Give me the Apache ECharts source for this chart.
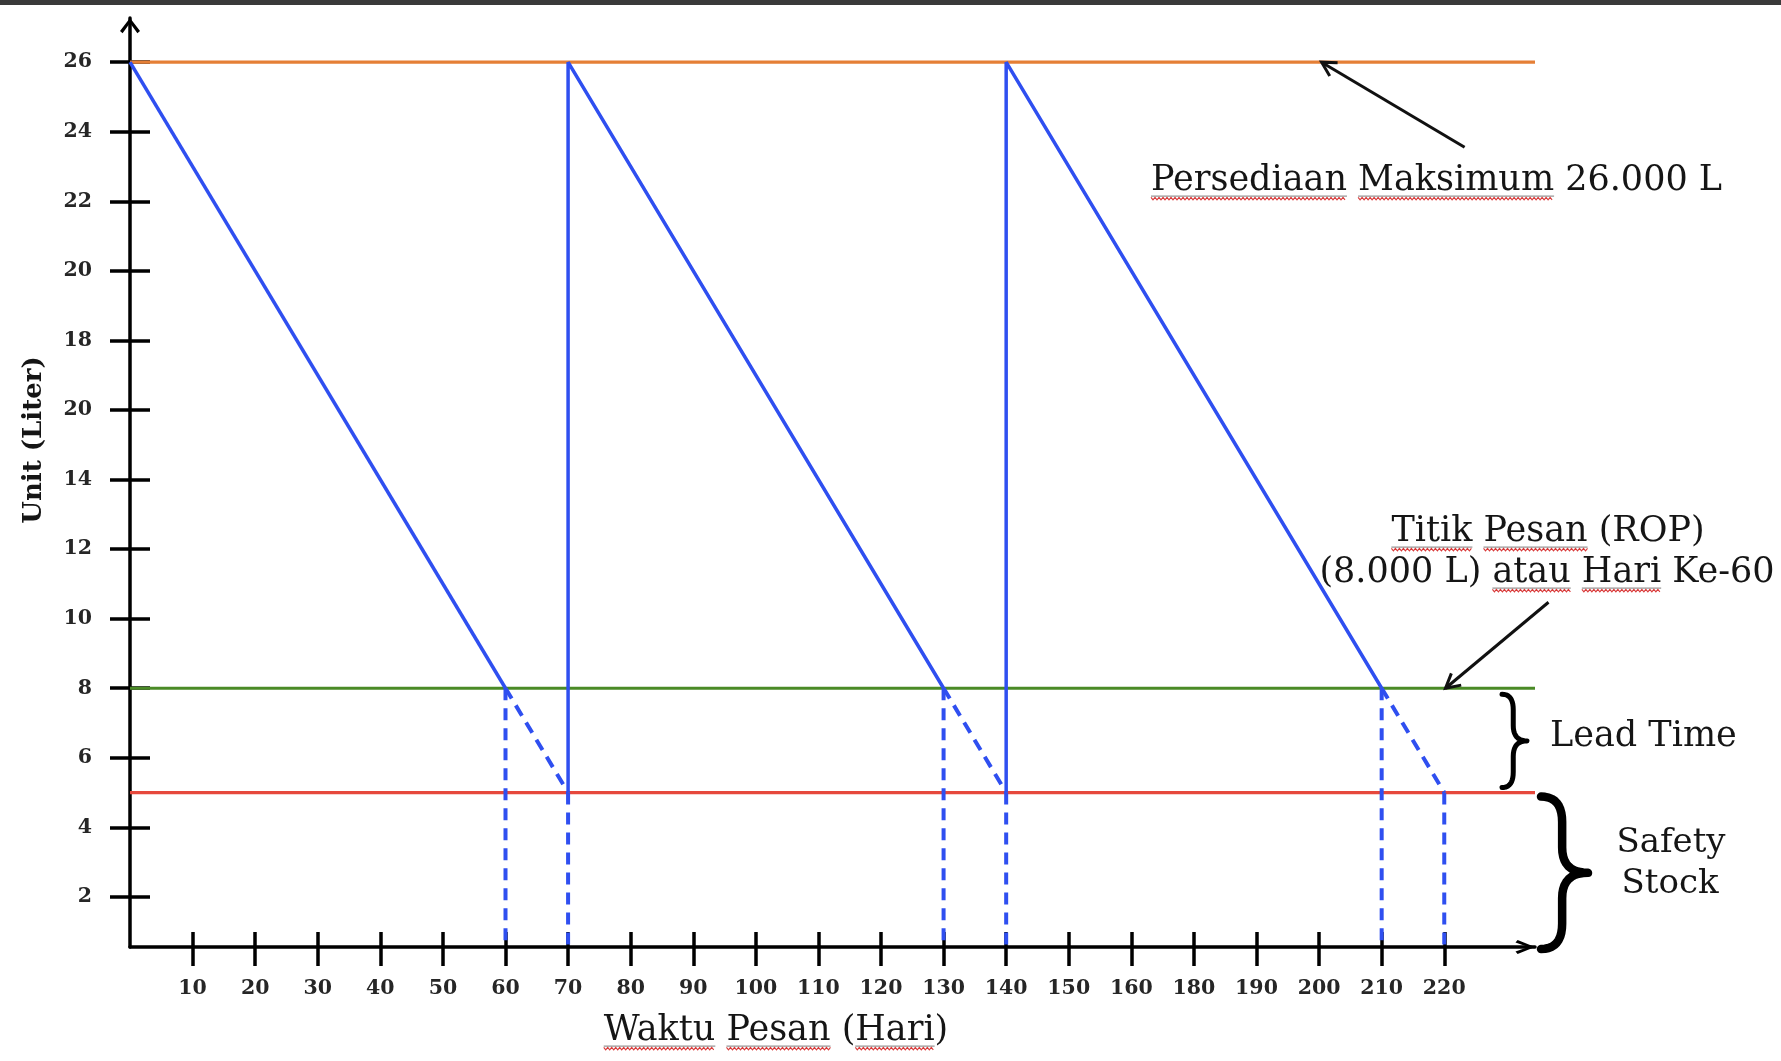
<!DOCTYPE html>
<html>
<head>
<meta charset="utf-8">
<script src="https://cdn.jsdelivr.net/npm/echarts@6/dist/echarts.min.js"></script>
<style>
html,body{margin:0;padding:0;background:#ffffff;}
#chart{width:1781px;height:1061px;}
</style>
</head>
<body>
<div id="chart"></div>
<script>
// ---------- data ----------
const xTickValues = [10,20,30,40,50,60,70,80,90,100,110,120,130,140,150,160,170,180,190,200,210];
const xTickLabels = ['10','20','30','40','50','60','70','80','90','100','110','120','130','140','150','160','180','190','200','210','220'];
const yTickValues = [2,4,6,8,10,12,14,16,18,20,22,24,26];
const yTickLabels = ['2','4','6','8','10','12','14','20','18','20','22','24','26'];

const maxStock = 26;      // Persediaan maksimum
const reorderPoint = 8;   // ROP
const safetyStock = 5;    // Safety stock
const xEnd = 224.5;       // end of time axis
const yBase = 0.56;       // where the time axis crosses
const yTop = 27.27;       // end of unit axis

const usageCycle1 = [[0,26],[60,8]];
const usageCycle2 = [[70,5],[70,26],[130,8]];
const usageCycle3 = [[140,5],[140,26],[200,8]];
const leadTime1 = [[60,8],[70,5]];
const leadTime2 = [[130,8],[140,5]];
const leadTime3 = [[200,8],[210,5]];
const dropLineTops = [[60,8],[70,5],[130,8],[140,5],[200,8],[210,5]];

// ---------- styles ----------
const FONT = '"DejaVu Serif", "Liberation Serif", serif';
const BLUE = '#2f4ff0', ORANGE = '#e57f36', GREEN = '#4a8a26', RED = '#e6483c';
const chevronUpY = 'path://M10,0 L20,13 L17.4,15.2 L10,5 L2.6,15.2 L0,13 Z';
const chevronUpX = 'path://M7,0 L14,17.4 L11.6,19.5 L7,6.6 L2.4,19.5 L0,17.4 Z';

function lineSeries(data, color, dashed, width, z) {
  return {
    type: 'line', data: data, showSymbol: false, symbol: 'none',
    xAxisIndex: 0, yAxisIndex: 0, z: z || 3, silent: true,
    lineStyle: { color: color, width: width || 3, type: dashed ? [12, 8] : 'solid', cap: 'butt' },
    emphasis: { disabled: true }
  };
}

const series = [
  lineSeries([[0, maxStock],[xEnd, maxStock]], ORANGE, false, 3.2, 2),
  lineSeries([[0, reorderPoint],[xEnd, reorderPoint]], GREEN, false, 3.2, 2),
  lineSeries([[0, safetyStock],[xEnd, safetyStock]], RED, false, 3.2, 2),
  lineSeries(usageCycle1, BLUE, false, 3.5),
  lineSeries(usageCycle2, BLUE, false, 3.5),
  lineSeries(usageCycle3, BLUE, false, 3.5),
  lineSeries(leadTime1, BLUE, true, 4),
  lineSeries(leadTime2, BLUE, true, 4),
  lineSeries(leadTime3, BLUE, true, 4)
];
dropLineTops.forEach(function (p) {
  series.push(lineSeries([[p[0], p[1]],[p[0], yBase]], BLUE, true, 4));
});

function xLabel(v) { const i = xTickValues.indexOf(v); return i >= 0 ? xTickLabels[i] : ''; }
function yLabel(v) { const i = yTickValues.indexOf(v); return i >= 0 ? yTickLabels[i] : ''; }

const axisLineBase = { lineStyle: { color: '#000', width: 3.5 }, onZero: false };
const tickStyle = { color: '#000', width: 3.5 };

const chart = echarts.init(document.getElementById('chart'), null, { renderer: 'canvas' });
chart.setOption({
  animation: false,
  backgroundColor: '#ffffff',
  grid: { left: 130, right: 246, top: 18, bottom: 114, containLabel: false },
  xAxis: [
    {
      type: 'value', min: 0, max: xEnd, position: 'bottom',
      axisLine: Object.assign({ show: true, symbol: ['none', chevronUpX], symbolSize: [14, 19.5], symbolOffset: [0, -9.75] }, axisLineBase),
      axisTick: { show: true, inside: true, length: 15, customValues: xTickValues, lineStyle: tickStyle },
      axisLabel: { show: true, customValues: xTickValues, formatter: xLabel, margin: 31, fontFamily: FONT, fontSize: 20.5, fontWeight: 'bold', color: '#262626' },
      splitLine: { show: false }
    },
    {
      type: 'value', min: 0, max: xEnd, position: 'bottom',
      axisLine: { show: false, onZero: false },
      axisTick: { show: true, inside: false, length: 19, customValues: xTickValues, lineStyle: tickStyle },
      axisLabel: { show: false },
      splitLine: { show: false }
    }
  ],
  yAxis: [
    {
      type: 'value', min: yBase, max: yTop, position: 'left',
      axisLine: Object.assign({ show: true, symbol: ['none', chevronUpY], symbolSize: [20, 15.2], symbolOffset: [0, -7.6] }, axisLineBase),
      axisTick: { show: true, inside: true, length: 20, customValues: yTickValues, lineStyle: tickStyle },
      axisLabel: { show: true, customValues: yTickValues, formatter: yLabel, margin: 38, fontFamily: FONT, fontSize: 20.5, fontWeight: 'bold', color: '#262626' },
      splitLine: { show: false }
    },
    {
      type: 'value', min: yBase, max: yTop, position: 'left',
      axisLine: { show: false, onZero: false },
      axisTick: { show: true, inside: false, length: 20, customValues: yTickValues, lineStyle: tickStyle },
      axisLabel: { show: false },
      splitLine: { show: false }
    }
  ],
  series: series
});

// ---------- annotations ----------
function px(p) { return chart.convertToPixel({ gridIndex: 0 }, p); }

function arrow(tail, tip) {
  const ang = Math.atan2(tip[1] - tail[1], tip[0] - tail[0]);
  const L = 16, a = 0.5;
  const h1 = [tip[0] - L * Math.cos(ang - a), tip[1] - L * Math.sin(ang - a)];
  const h2 = [tip[0] - L * Math.cos(ang + a), tip[1] - L * Math.sin(ang + a)];
  return [
    { type: 'polyline', shape: { points: [tail, tip] }, style: { stroke: '#111', lineWidth: 3, fill: null }, silent: true, z: 10 },
    { type: 'polyline', shape: { points: [h1, tip, h2] }, style: { stroke: '#111', lineWidth: 3, fill: null, lineJoin: 'miter' }, silent: true, z: 10 }
  ];
}

function quad(p0, c, p1, n, out) {
  for (let i = 0; i <= n; i++) {
    const t = i / n, u = 1 - t;
    out.push([u * u * p0[0] + 2 * u * t * c[0] + t * t * p1[0], u * u * p0[1] + 2 * u * t * c[1] + t * t * p1[1]]);
  }
}

function brace(x0, x1, top, bottom, w) {
  const mid = (top + bottom) / 2;
  const xm = x0 + (x1 - x0) * 0.45;
  const r = Math.min((x1 - x0) * 0.9, (bottom - top) / 6);
  const pts = [];
  quad([x0, top], [xm, top], [xm, top + r], 10, pts);
  pts.push([xm, mid - r]);
  quad([xm, mid - r], [xm, mid], [x1, mid], 10, pts);
  quad([x1, mid], [xm, mid], [xm, mid + r], 10, pts);
  pts.push([xm, bottom - r]);
  quad([xm, bottom - r], [xm, bottom], [x0, bottom], 10, pts);
  return { type: 'polyline', shape: { points: pts }, style: { stroke: '#000', lineWidth: w, fill: null, lineCap: 'round', lineJoin: 'round' }, silent: true, z: 10 };
}

function textEl(str, x, y, size, align, weight, rot) {
  return {
    type: 'text', x: x, y: y, rotation: rot || 0, silent: true, z: 10,
    style: {
      text: str, x: 0, y: 0, fill: '#151515',
      font: (weight || 'normal') + ' ' + size + 'px ' + FONT,
      textAlign: align || 'center', textVerticalAlign: 'middle'
    }
  };
}

const measureCtx = document.createElement('canvas').getContext('2d');
function wavyUnder(str, words, x, y, size, align) {
  measureCtx.font = size + 'px ' + FONT;
  const total = measureCtx.measureText(str).width;
  const start = align === 'left' ? x : x - total / 2;
  const base = y + size * 0.36 + 4;
  const out = [];
  words.forEach(function (w) {
    const idx = str.indexOf(w);
    const wx0 = start + measureCtx.measureText(str.slice(0, idx)).width;
    const wx1 = wx0 + measureCtx.measureText(w).width;
    out.push({ type: 'polyline', shape: { points: [[wx0, base - 1.5], [wx1, base - 1.5]] }, style: { stroke: '#444', lineWidth: 1, fill: null, opacity: 0.7 }, silent: true, z: 9 });
    const pts = [];
    let k = 0;
    for (let xx = wx0; xx <= wx1; xx += 2) { pts.push([xx, base + 1 + (k % 2 ? 1.3 : -1.3)]); k++; }
    out.push({ type: 'polyline', shape: { points: pts }, style: { stroke: '#d93a3a', lineWidth: 1.1, fill: null }, silent: true, z: 9 });
  });
  return out;
}

const S = 35;
const tipMax = px([190.4, maxStock]);
const tipRop = px([210.2, reorderPoint]);
const pRop = px([0, reorderPoint]), pSafe = px([0, safetyStock]), pBase = px([0, yBase]);

let g = [];
g.push({ type: 'rect', shape: { x: 0, y: 0, width: 1781, height: 5 }, style: { fill: '#3a3a3a' }, silent: true, z: 20 });
g = g.concat(arrow([tipMax[0] + 143, tipMax[1] + 85], tipMax));
g = g.concat(arrow([tipRop[0] + 103, tipRop[1] - 86], tipRop));
g.push(brace(1502, 1527, pRop[1] + 6, pSafe[1] - 5, 5));
g.push(brace(1541, 1588, pSafe[1] + 4, pBase[1] + 2, 8.5));

const t1 = 'Persediaan Maksimum 26.000 L';
g.push(textEl(t1, 1151, 181, S, 'left'));
g = g.concat(wavyUnder(t1, ['Persediaan', 'Maksimum'], 1151, 181, S, 'left'));
const t2 = 'Titik Pesan (ROP)';
g.push(textEl(t2, 1548, 532, S, 'center'));
g = g.concat(wavyUnder(t2, ['Titik', 'Pesan'], 1548, 532, S, 'center'));
const t3 = '(8.000 L) atau Hari Ke-60';
g.push(textEl(t3, 1547, 573, S, 'center'));
g = g.concat(wavyUnder(t3, ['atau', 'Hari'], 1547, 573, S, 'center'));
g.push(textEl('Lead Time', 1550, 737, S, 'left'));
g.push(textEl('Safety', 1671, 843, 34, 'center'));
g.push(textEl('Stock', 1670, 884, 34, 'center'));
const t4 = 'Waktu Pesan (Hari)';
g.push(textEl(t4, 776, 1031, S, 'center'));
g = g.concat(wavyUnder(t4, ['Waktu', 'Pesan', 'Hari'], 776, 1031, S, 'center'));
g.push(textEl('Unit (Liter)', 34, 440, 26, 'center', 'bold', Math.PI / 2));

chart.setOption({ graphic: { elements: g } });
</script>
</body>
</html>
